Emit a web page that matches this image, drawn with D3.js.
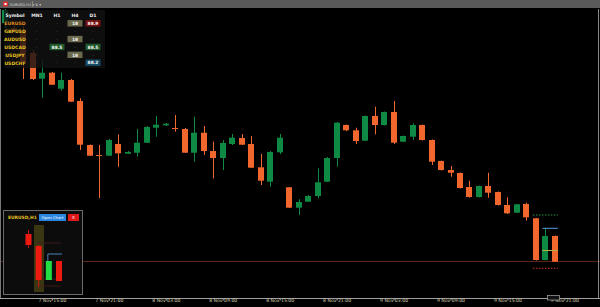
<!DOCTYPE html>
<html><head><meta charset="utf-8">
<script src="https://cdn.jsdelivr.net/npm/d3@7"></script>
<style>html,body{margin:0;padding:0;background:#000;overflow:hidden}svg{display:block}text{font-family:"DejaVu Sans",Arial,sans-serif}</style>
</head><body><svg id="c" width="600" height="307"></svg>
<script>
// ---- data ----
const opens  = [1.0886,1.0881,1.0879,1.0856,1.08303,1.08363,1.08203,1.0829,1.0808,1.0764,1.0754,1.07533,1.0765,1.07553,1.07563,1.07663,1.07813,1.07837,1.0781,1.0780,1.07563,1.07763,1.0758,1.0751,1.0765,1.0771,1.0765,1.07417,1.07273,1.07567,1.07217,1.07013,1.07073,1.0713,1.07273,1.0751,1.0784,1.07787,1.07683,1.0793,1.0784,1.0797,1.07673,1.07723,1.0784,1.0769,1.0748,1.0739,1.0736,1.0722,1.0712,1.0723,1.0717,1.0704,1.06963,1.0705,1.06907,1.0649,1.0673];
const highs  = [1.0900,1.0883,1.0883,1.0859,1.0849,1.0837,1.08363,1.0830,1.08107,1.07645,1.0764,1.0770,1.07747,1.0758,1.0780,1.0783,1.0793,1.0786,1.0794,1.0781,1.07923,1.0783,1.07673,1.0769,1.0775,1.0775,1.0773,1.0755,1.0758,1.0775,1.0722,1.07097,1.0714,1.07407,1.0752,1.0787,1.07845,1.07813,1.07935,1.08023,1.07975,1.0808,1.07735,1.07857,1.07845,1.07695,1.07485,1.0743,1.07365,1.07283,1.07235,1.07363,1.07175,1.07117,1.0705,1.07063,1.0691,1.0681,1.06735];
const lows   = [1.0881,1.0876,1.0830,1.0829,1.08113,1.0824,1.08183,1.0807,1.0759,1.0753,1.0711,1.0753,1.07423,1.0755,1.07523,1.0766,1.07723,1.0783,1.07773,1.0756,1.07473,1.0754,1.07307,1.0739,1.0764,1.0764,1.0741,1.0724,1.07223,1.0755,1.0701,1.0694,1.0707,1.07107,1.0727,1.07423,1.0778,1.0765,1.0768,1.07747,1.07835,1.0765,1.0767,1.0769,1.07685,1.0744,1.07385,1.07323,1.07205,1.07113,1.07115,1.07113,1.07035,1.0695,1.0696,1.06883,1.06485,1.06485,1.0647];
const closes = [1.0899,1.0878,1.0846,1.0830,1.08363,1.08243,1.0829,1.08073,1.07643,1.07533,1.0753,1.0769,1.07557,1.0757,1.07663,1.0782,1.07843,1.07853,1.0780,1.07563,1.07763,1.0758,1.0751,1.0766,1.07713,1.07643,1.07413,1.07283,1.0757,1.07713,1.07013,1.0707,1.0713,1.07267,1.0751,1.07863,1.07787,1.0768,1.0793,1.0784,1.0797,1.07663,1.0773,1.0784,1.0769,1.07473,1.0739,1.07363,1.0721,1.0712,1.0723,1.07163,1.0704,1.06957,1.07047,1.06917,1.0649,1.0673,1.06473];
const tickIndex  = [5,11,17,23,29,35,41,47,53,59];
const tickLabels = ["7 Nov 15:00","7 Nov 21:00","8 Nov 03:00","8 Nov 09:00","8 Nov 15:00","8 Nov 21:00","9 Nov 03:00","9 Nov 09:00","9 Nov 15:00","9 Nov 21:00"];
const bidPrice = 1.0648, tpPrice = 1.0694, slPrice = 1.06407, entryPrice = 1.06807, markPrice = 1.06585;

const tableHeader = ["Symbol","MN1","H1","H4","D1"];
const symbols = ["EURUSD","GBPUSD","AUDUSD","USDCAD","USDJPY","USDCHF"];
const colMN1 = ["·","·","·","·","·","·"];
const colH1  = ["·","·","·","88.5","·","·"];
const colH4  = ["18","·","18","·","18","·"];
const colD1  = ["88.9","·","·","88.5","·","88.2"];
const kindH1 = ["","","","g","",""];
const kindH4 = ["o","","o","","o",""];
const kindD1 = ["r","","","g","","b"];

const miniOpen  = [58,46,12,31];
const miniClose = [47,12,31,11];
const miniHigh  = [62,47,31,31];
const miniLow   = [44,5,12,11];
const miniLines = [49,13,6];
const miniEntry = 38;

// ---- drawing ----
const svg = d3.select("#c");
const W=600,H=307;
svg.append("rect").attr("width",W).attr("height",H).attr("fill","#000");

const x = d3.scaleLinear().domain([0,58]).range([4.5,554.9]);
const y = d3.scaleLinear().domain([1.0612,1.0900]).range([297,9]);
const UP="#0f8a45", DN="#f2672e";

// bid line
svg.append("line").attr("x1",0).attr("x2",W).attr("y1",Math.round(y(bidPrice))+0.5).attr("y2",Math.round(y(bidPrice))+0.5)
  .attr("stroke","#5a2418").attr("stroke-width",1);

const candles = opens.map((o,i)=>({i,o,h:highs[i],l:lows[i],c:closes[i]}));
const g = svg.append("g");
candles.forEach(d=>{
  const col = d.c>=d.o?UP:DN;
  const left = Math.round(x(d.i)-3);
  const yh=y(d.h), yl=y(d.l);
  g.append("rect").attr("x",left+3).attr("y",yh).attr("width",1).attr("height",Math.max(1,yl-yh)).attr("fill",col);
  const top=y(Math.max(d.o,d.c)), bot=y(Math.min(d.o,d.c));
  g.append("rect").attr("x",left).attr("y",top).attr("width",6).attr("height",Math.max(1,bot-top)).attr("fill",col);
});

// trade lines at right end
const xa=x(56)-3, xb=x(58)+3, xm=x(57)-3;
svg.append("line").attr("x1",xa).attr("x2",xb).attr("y1",y(tpPrice)).attr("y2",y(tpPrice)).attr("stroke","#2f9a48").attr("stroke-dasharray","1.5,1.5");
svg.append("line").attr("x1",xa).attr("x2",xb).attr("y1",y(slPrice)).attr("y2",y(slPrice)).attr("stroke","#d03a2a").attr("stroke-dasharray","1.5,1.5");
svg.append("line").attr("x1",xm).attr("x2",xb).attr("y1",y(entryPrice)).attr("y2",y(entryPrice)).attr("stroke","#5a9ee0").attr("stroke-width",1);
svg.append("line").attr("x1",xm).attr("x2",xb).attr("y1",y(markPrice)).attr("y2",y(markPrice)).attr("stroke","#b8b040").attr("stroke-width",1);

// borders
svg.append("line").attr("x1",0.5).attr("x2",0.5).attr("y1",9).attr("y2",298).attr("stroke","#777");
svg.append("line").attr("x1",598.5).attr("x2",598.5).attr("y1",9).attr("y2",298).attr("stroke","#888");

// top toolbar
svg.append("rect").attr("x",0).attr("y",0).attr("width",W).attr("height",8).attr("fill","#5a5a5a");
svg.append("rect").attr("x",3).attr("y",1.5).attr("width",5).attr("height",5).attr("fill","#d83030");
svg.append("rect").attr("x",4.5).attr("y",3).attr("width",2).attr("height",2).attr("fill","#fff");
svg.append("text").attr("x",10).attr("y",5.8).attr("font-size",3.6).attr("fill","#ddd").text("EURUSD,H1 ▾");
svg.append("line").attr("x1",32.5).attr("x2",32.5).attr("y1",1).attr("y2",7).attr("stroke","#888");
svg.append("text").attr("x",35).attr("y",5.8).attr("font-size",3.6).attr("fill","#ddd").text("⇅ ▾");

// table overlay
const tb = svg.append("g");
tb.append("rect").attr("x",4).attr("y",10).attr("width",101).attr("height",58).attr("fill","rgba(18,18,18,0.8)");
const colX=[15,37,57,75,93];
const rowY=d3.scaleLinear().domain([0,5]).range([23.3,62.7]);
tableHeader.forEach((t,j)=>tb.append("text").attr("x",colX[j]).attr("y",16.5).attr("text-anchor","middle")
  .attr("font-size",4.6).attr("font-weight","bold").attr("fill","#eee").text(t));
const badgeCol={g:"#1e5a2c",o:"#6c6a4e",r:"#7a1010",b:"#164c68"};
symbols.forEach((s,r)=>{
  const yy=rowY(r);
  tb.append("text").attr("x",colX[0]).attr("y",yy+1.8).attr("text-anchor","middle").attr("font-size",4.6)
    .attr("font-weight","bold").attr("fill",r===0?"#e08a20":"#e6c020").text(s);
  [colMN1,colH1,colH4,colD1].forEach((col,j)=>{
    const kinds=[null,kindH1,kindH4,kindD1][j];
    const k=kinds?kinds[r]:"";
    const cx=colX[j+1];
    if(k){
      tb.append("rect").attr("x",cx-7.5).attr("y",yy-3.2).attr("width",15).attr("height",6.4).attr("fill",badgeCol[k]);
      tb.append("text").attr("x",cx).attr("y",yy+1.7).attr("text-anchor","middle").attr("font-size",4.4)
        .attr("font-weight","bold").attr("fill","#f4f4f4").text(col[r]);
    } else {
      tb.append("text").attr("x",cx).attr("y",yy+1.7).attr("text-anchor","middle").attr("font-size",4.4).attr("fill","#888").text(col[r]);
    }
  });
});

// bottom-left mini panel
const mp = svg.append("g");
mp.append("rect").attr("x",3.5).attr("y",210.5).attr("width",79).attr("height",84).attr("fill","#0c0c0c").attr("stroke","#6a6a6a");
mp.append("text").attr("x",8).attr("y",219).attr("font-size",4.4).attr("font-weight","bold").attr("fill","#e6c020").text("EURUSD,H1");
mp.append("rect").attr("x",39).attr("y",214).attr("width",27).attr("height",7).attr("fill","#2a86e0");
mp.append("text").attr("x",52.5).attr("y",219).attr("text-anchor","middle").attr("font-size",3.8).attr("fill","#fff").text("Open Chart");
mp.append("rect").attr("x",68).attr("y",214).attr("width",11).attr("height",7).attr("fill","#e01818");
mp.append("text").attr("x",73.5).attr("y",219.2).attr("text-anchor","middle").attr("font-size",4.2).attr("fill","#fff").text("X");
const mx=d3.scaleLinear().domain([0,3]).range([28.5,59]);
const my=d3.scaleLinear().domain([0,70]).range([292,222]);
mp.append("rect").attr("x",34).attr("y",my(67)).attr("width",10).attr("height",my(0)-my(67)).attr("fill","#3b3612");
miniLines.forEach(v=>mp.append("line").attr("x1",37).attr("x2",61).attr("y1",my(v)).attr("y2",my(v)).attr("stroke","#4a2020").attr("stroke-width",0.8));
miniOpen.forEach((o,i)=>{
  const c=miniClose[i], col=c>=o?"#22dd44":"#ee1a10";
  const cx=mx(i);
  mp.append("line").attr("x1",cx).attr("x2",cx).attr("y1",my(miniHigh[i])).attr("y2",my(miniLow[i])).attr("stroke",col).attr("stroke-width",0.8);
  mp.append("rect").attr("x",cx-3).attr("y",my(Math.max(o,c))).attr("width",6).attr("height",Math.abs(my(o)-my(c))).attr("fill",col);
});
mp.append("line").attr("x1",mx(2)-1).attr("x2",mx(3)+3).attr("y1",my(miniEntry)).attr("y2",my(miniEntry)).attr("stroke","#5a9ee0").attr("stroke-width",0.8);
mp.append("line").attr("x1",mx(2)-1).attr("x2",mx(2)-1).attr("y1",my(miniEntry)).attr("y2",my(31)).attr("stroke","#5a9ee0").attr("stroke-width",0.8);

// x axis
svg.append("line").attr("x1",0).attr("x2",W).attr("y1",298.5).attr("y2",298.5).attr("stroke","#a0a0a0");
const xa2 = d3.axisBottom(x).tickValues(tickIndex).tickSize(2).tickFormat((d,i)=>tickLabels[i]);
const ax = svg.append("g").attr("transform","translate(0,298.5)").call(xa2);
ax.select(".domain").remove();
ax.selectAll(".tick line").attr("stroke","#a0a0a0");
ax.selectAll(".tick text").attr("font-size",4.6).attr("fill","#d8d0b0").attr("dy","0.2em").attr("y",3);
svg.append("rect").attr("x",547.5).attr("y",295.5).attr("width",12).attr("height",4.5).attr("fill","#111").attr("stroke","#aaa").attr("stroke-width",0.7);
</script></body></html>
